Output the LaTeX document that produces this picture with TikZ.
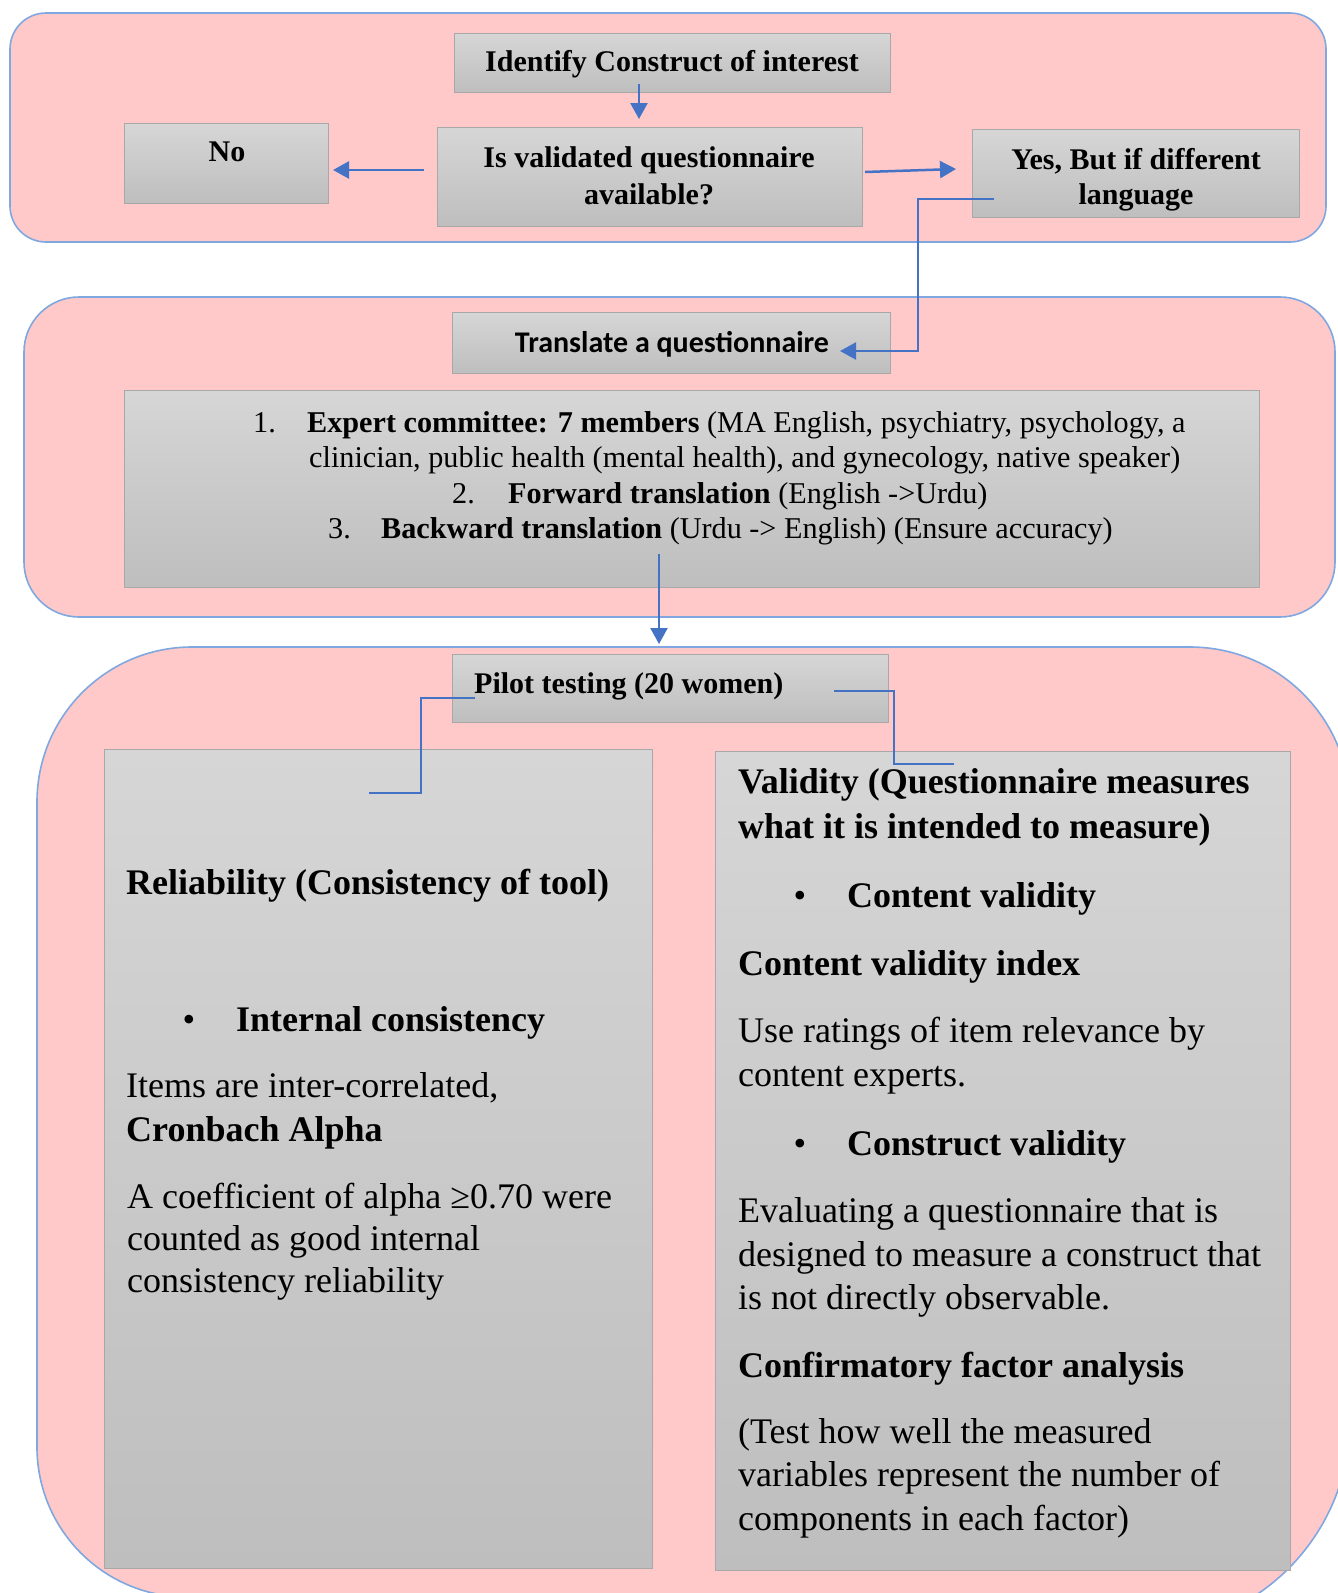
\documentclass[tikz,border=0pt]{standalone}
\usepackage{fontspec}
\setmainfont{Liberation Serif}
\newfontfamily\calibri{Carlito}
\usetikzlibrary{arrows.meta}
\definecolor{panelfill}{HTML}{FFC9C9}
\definecolor{panelline}{HTML}{7FA7E0}
\definecolor{boxtop}{HTML}{D6D6D6}
\definecolor{boxbot}{HTML}{BEBEBE}
\definecolor{boxline}{HTML}{A8A8A8}
\definecolor{arrowblue}{HTML}{4472C4}
\begin{document}
\begin{tikzpicture}[x=1pt,y=-1pt,
  panel/.style={fill=panelfill, draw=panelline, line width=1.6pt},
  gbox/.style={top color=boxtop, bottom color=boxbot, draw=boxline, line width=1.2pt, inner sep=0pt, anchor=north west},
  ttl/.style={inner sep=0pt, anchor=base, font=\fontsize{30}{36}\selectfont\bfseries},
  lst/.style={inner sep=0pt, anchor=base west, font=\fontsize{30.2}{35}\selectfont},
  big/.style={inner sep=0pt, anchor=base west, font=\fontsize{36}{43}\selectfont},
  bigb/.style={big, font=\fontsize{36}{43}\selectfont\bfseries},
  bul/.style={inner sep=0pt, anchor=base, font=\fontsize{36}{43}\selectfont},
  arr/.style={draw=arrowblue, line width=2.5pt, -{Triangle[length=16pt,width=17pt]}},
  conn/.style={draw=arrowblue, line width=1.6pt}
]
\useasboundingbox (0,0) rectangle (1338,1593);

% panels
\draw[panel, rounded corners=36pt] (10,13) rectangle (1326,242);
\draw[panel, rounded corners=55pt] (24,297) rectangle (1335,617);
\begin{scope}
\clip (0,0) rectangle (1338,1593);
\draw[panel] (37,802) arc[start angle=180,end angle=270,radius=155]
  -- (1190,647) arc[start angle=270,end angle=360,radius=160]
  -- (1350,1420) arc[start angle=0,end angle=90,radius=210]
  -- (187,1597) arc[start angle=90,end angle=180,radius=150] -- cycle;
\end{scope}

% boxes
\node[gbox, minimum width=436pt, minimum height=59pt] (ident) at (454,33) {};
\node[gbox, minimum width=204pt, minimum height=80pt] (nobox) at (124,123) {};
\node[gbox, minimum width=425pt, minimum height=99pt] (isval) at (437,127) {};
\node[gbox, minimum width=327pt, minimum height=88pt] (yesbox) at (972,129) {};
\node[gbox, minimum width=438pt, minimum height=61pt] (trans) at (452,312) {};
\node[gbox, minimum width=1135pt, minimum height=197pt] (listbox) at (124,390) {};
\node[gbox, minimum width=436pt, minimum height=68pt] (pilot) at (452,654) {};
\node[gbox, minimum width=548pt, minimum height=819pt] (rel) at (104,749) {};
\node[gbox, minimum width=575pt, minimum height=819pt] (val) at (715,751) {};

% panel 1 texts
\node[ttl] (identtxt) at (672,71) {Identify Construct of interest};
\node[ttl] (notxt) at (227,161) {No};
\node[ttl] (isvaltxta) at (649,167) {Is validated questionnaire};
\node[ttl] (isvaltxtb) at (649,204) {available?};
\node[ttl] (yestxta) at (1136,169) {Yes, But if different};
\node[ttl] (yestxtb) at (1136,204) {language};

% panel 2 texts
\node[ttl, font=\fontsize{30}{36}\selectfont\calibri\bfseries] (transtxt) at (672,352) {Translate a questionnaire};
\node[lst] (n1) at (253,432) {1.};
\node[lst] (l1) at (307,432) {\textbf{Expert committee: 7 members} (MA English, psychiatry, psychology, a};
\node[lst] (l2) at (309,467) {clinician, public health (mental health), and gynecology, native speaker)};
\node[lst] (n2) at (452,503) {2.};
\node[lst] (l3) at (508,503) {\textbf{Forward translation} (English ->Urdu)};
\node[lst] (n3) at (328,538) {3.};
\node[lst] (l4) at (381,538) {\textbf{Backward translation} (Urdu -> English) (Ensure accuracy)};

% panel 3 texts
\node[ttl, anchor=base west] (pilottxt) at (474,693) {Pilot testing (20 women)};

\node[bigb] (r1) at (126,894) {Reliability (Consistency of tool)};
\node[bul] (rb1) at (189,1031) {•};
\node[bigb] (r2) at (236,1031) {Internal consistency};
\node[big] (r3) at (126,1097) {Items are inter-correlated,};
\node[bigb] (r4) at (126,1141) {Cronbach Alpha};
\node[big] (r5) at (127,1208) {A coefficient of alpha ≥0.70 were};
\node[big] (r6) at (127,1250) {counted as good internal};
\node[big] (r7) at (127,1292) {consistency reliability};

\node[bigb] (v1) at (738,793) {Validity (Questionnaire measures};
\node[bigb] (v2) at (738,838) {what it is intended to measure)};
\node[bul] (vb1) at (800,907) {•};
\node[bigb] (v3) at (847,907) {Content validity};
\node[bigb] (v4) at (738,975) {Content validity index};
\node[big] (v5) at (738,1042) {Use ratings of item relevance by};
\node[big] (v6) at (738,1086) {content experts.};
\node[bul] (vb2) at (800,1155) {•};
\node[bigb] (v7) at (847,1155) {Construct validity};
\node[big] (v8) at (738,1222) {Evaluating a questionnaire that is};
\node[big] (v9) at (738,1266) {designed to measure a construct that};
\node[big] (v10) at (738,1309) {is not directly observable.};
\node[bigb] (v11) at (738,1377) {Confirmatory factor analysis};
\node[big] (v12) at (738,1443) {(Test how well the measured};
\node[big] (v13) at (738,1486) {variables represent the number of};
\node[big] (v14) at (738,1530) {components in each factor)};

% connector end points
\coordinate (c1s) at (639,84);   \coordinate (c1e) at (639,119);
\coordinate (c2s) at (424,170);  \coordinate (c2e) at (333,170);
\coordinate (c3s) at (865,172);  \coordinate (c3e) at (956,169);
\coordinate (c4s) at (994,199);  \coordinate (c4b) at (918,351); \coordinate (c4e) at (840,351);
\coordinate (c5s) at (659,554);  \coordinate (c5e) at (659,644);
\coordinate (p1s) at (475,698);  \coordinate (p1b) at (421,793); \coordinate (p1e) at (369,793);
\coordinate (p2s) at (834,691);  \coordinate (p2b) at (894,764); \coordinate (p2e) at (954,764);

\draw[arr] (c1s) -- (c1e);
\draw[arr] (c2s) -- (c2e);
\draw[arr] (c3s) -- (c3e);
\draw[arr, line width=2.2pt] (c4s) -| (c4b) -- (c4e);
\draw[arr, line width=2.2pt] (c5s) -- (c5e);
\draw[conn] (p1s) -| (p1b) -- (p1e);
\draw[conn] (p2s) -| (p2b) -- (p2e);
\end{tikzpicture}
\end{document}
